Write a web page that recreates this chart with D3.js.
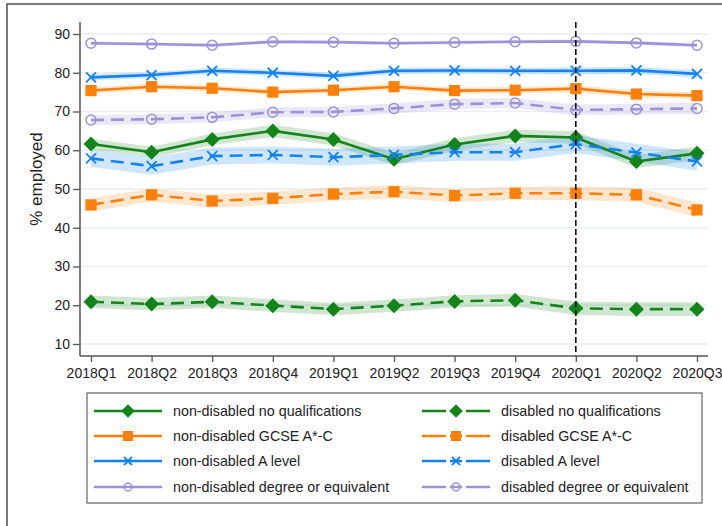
<!DOCTYPE html>
<html>
<head>
<meta charset="utf-8">
<script src="https://cdn.jsdelivr.net/npm/d3@7"></script>
<style>
  html, body { margin: 0; padding: 0; background: #fff; }
  svg { display: block; font-family: "Liberation Sans", Arial, sans-serif; }
</style>
</head>
<body>
<svg id="chart" width="722" height="526"></svg>
<script>
// Quarters on the x axis
const quarters = ["2018Q1","2018Q2","2018Q3","2018Q4","2019Q1","2019Q2","2019Q3","2019Q4","2020Q1","2020Q2","2020Q3"];
const yTicks = [10, 20, 30, 40, 50, 60, 70, 80, 90];
const markerQuarter = "2020Q1";

// Employment rate (%) by group
const nonDisNoQual   = [61.6, 59.5, 62.8, 65.0, 62.8, 57.7, 61.5, 63.7, 63.3, 57.1, 59.2];
const nonDisGCSE     = [75.4, 76.4, 76.0, 75.0, 75.5, 76.4, 75.4, 75.5, 75.9, 74.5, 74.1];
const nonDisALevel   = [78.8, 79.4, 80.5, 80.0, 79.2, 80.5, 80.6, 80.5, 80.5, 80.6, 79.7];
const nonDisDegree   = [87.6, 87.4, 87.1, 88.0, 87.9, 87.6, 87.8, 88.0, 88.1, 87.7, 87.1];
const disNoQual      = [20.9, 20.3, 20.9, 19.9, 19.0, 19.9, 21.0, 21.3, 19.2, 19.0, 19.0];
const disGCSE        = [45.9, 48.5, 46.9, 47.6, 48.7, 49.3, 48.3, 48.9, 48.9, 48.5, 44.6];
const disALevel      = [57.9, 55.9, 58.5, 58.8, 58.2, 58.8, 59.5, 59.5, 61.6, 59.4, 57.1];
const disDegree      = [67.8, 68.0, 68.5, 69.8, 69.9, 70.8, 71.9, 72.2, 70.4, 70.6, 70.8];

// Half-width of the confidence band around each estimate (percentage points)
const nonDisNoQualCI = [1.4, 1.4, 1.5, 1.6, 1.6, 1.6, 1.6, 1.6, 1.6, 1.7, 1.8];
const nonDisGCSECI   = [0.8, 0.8, 0.8, 0.8, 0.8, 0.8, 0.8, 0.8, 0.9, 0.9, 0.9];
const nonDisALevelCI = [0.8, 0.8, 0.8, 0.8, 0.8, 0.8, 0.8, 0.8, 0.9, 0.9, 1.0];
const nonDisDegreeCI = [0.5, 0.5, 0.5, 0.5, 0.5, 0.5, 0.5, 0.5, 0.5, 0.5, 0.6];
const disNoQualCI    = [1.6, 1.6, 1.6, 1.6, 1.6, 1.6, 1.6, 1.6, 1.7, 1.8, 1.8];
const disGCSECI      = [1.7, 1.7, 1.7, 1.7, 1.7, 1.7, 1.7, 1.7, 1.8, 1.8, 1.9];
const disALevelCI    = [2.2, 2.2, 2.2, 2.2, 2.2, 2.2, 2.2, 2.2, 2.3, 2.3, 2.4];
const disDegreeCI    = [1.3, 1.3, 1.3, 1.3, 1.3, 1.3, 1.3, 1.3, 1.4, 1.4, 1.5];

const GREEN = "#12841a", ORANGE = "#ff8008", BLUE = "#1382f7", PURPLE = "#9c92d8";

const series = [
  { name: "non-disabled no qualifications",     values: nonDisNoQual, ci: nonDisNoQualCI, color: GREEN,  dashed: false, marker: "diamond" },
  { name: "non-disabled GCSE A*-C",             values: nonDisGCSE,   ci: nonDisGCSECI,   color: ORANGE, dashed: false, marker: "square" },
  { name: "non-disabled A level",               values: nonDisALevel, ci: nonDisALevelCI, color: BLUE,   dashed: false, marker: "x" },
  { name: "non-disabled degree or equivalent",  values: nonDisDegree, ci: nonDisDegreeCI, color: PURPLE, dashed: false, marker: "circle" },
  { name: "disabled no qualifications",         values: disNoQual,    ci: disNoQualCI,    color: GREEN,  dashed: true,  marker: "diamond" },
  { name: "disabled GCSE A*-C",                 values: disGCSE,      ci: disGCSECI,      color: ORANGE, dashed: true,  marker: "square" },
  { name: "disabled A level",                   values: disALevel,    ci: disALevelCI,    color: BLUE,   dashed: true,  marker: "x" },
  { name: "disabled degree or equivalent",      values: disDegree,    ci: disDegreeCI,    color: PURPLE, dashed: true,  marker: "circle" }
];

const svg = d3.select("#chart");

// Outer frame of the figure
svg.append("rect")
  .attr("x", 7).attr("y", 4).attr("width", 740).attr("height", 560)
  .attr("fill", "none").attr("stroke", "#333").attr("stroke-width", 1.3);

const x = d3.scalePoint().domain(quarters).range([91, 697]).padding(0);
const y = d3.scaleLinear().domain([10, 90]).range([344, 34]);

const plotLeft = 80, plotRight = 708, plotBottom = 356, plotTop = 22;

// Horizontal gridlines
svg.append("g").selectAll("line").data(yTicks).join("line")
  .attr("x1", plotLeft).attr("x2", plotRight)
  .attr("y1", d => y(d)).attr("y2", d => y(d))
  .attr("stroke", "#e6eff2").attr("stroke-width", 1.5);

// Confidence bands
const area = d3.area()
  .x((d, i) => x(quarters[i]))
  .y0(d => y(d.v - d.c))
  .y1(d => y(d.v + d.c));

svg.append("g").selectAll("path").data(series).join("path")
  .attr("d", s => area(s.values.map((v, i) => ({ v, c: s.ci[i] }))))
  .attr("fill", s => s.color)
  .attr("fill-opacity", 0.2)
  .attr("stroke", "none");

// Lines
const line = d3.line().x((d, i) => x(quarters[i])).y(d => y(d));
svg.append("g").selectAll("path").data(series).join("path")
  .attr("d", s => line(s.values))
  .attr("fill", "none")
  .attr("stroke", s => s.color)
  .attr("stroke-width", 2.6)
  .attr("stroke-dasharray", s => s.dashed ? "13,7" : null);

// Marker drawing
function drawMarker(g, type, color, cx, cy, scale) {
  const k = scale || 1;
  if (type === "diamond") {
    const r = 7.5 * k;
    g.append("path")
      .attr("d", `M${cx},${cy - r}L${cx + r},${cy}L${cx},${cy + r}L${cx - r},${cy}Z`)
      .attr("fill", color);
  } else if (type === "square") {
    const h = 5.6 * k;
    g.append("rect")
      .attr("x", cx - h).attr("y", cy - h).attr("width", 2 * h).attr("height", 2 * h)
      .attr("fill", color);
  } else if (type === "x") {
    const h = 5 * k;
    g.append("path")
      .attr("d", `M${cx - h},${cy - h}L${cx + h},${cy + h}M${cx - h},${cy + h}L${cx + h},${cy - h}`)
      .attr("stroke", color).attr("stroke-width", 1.8).attr("fill", "none");
  } else if (type === "circle") {
    g.append("circle")
      .attr("cx", cx).attr("cy", cy).attr("r", 5 * k)
      .attr("fill", "none").attr("stroke", color).attr("stroke-width", 1.5);
  }
}

const markersG = svg.append("g");
series.forEach(s => {
  s.values.forEach((v, i) => drawMarker(markersG, s.marker, s.color, x(quarters[i]), y(v)));
});

// Reference line at 2020Q1
svg.append("line")
  .attr("x1", x(markerQuarter)).attr("x2", x(markerQuarter))
  .attr("y1", plotTop).attr("y2", plotBottom)
  .attr("stroke", "#111").attr("stroke-width", 1.6)
  .attr("stroke-dasharray", "6,3");

// Axes
const yAxis = svg.append("g")
  .attr("transform", `translate(${plotLeft},0)`)
  .call(d3.axisLeft(y).tickValues(yTicks).tickSize(7).tickPadding(3));
yAxis.select(".domain").remove();
yAxis.selectAll(".tick line").attr("stroke", "#555").attr("stroke-width", 1.3);
yAxis.selectAll(".tick text").attr("font-size", 14).attr("fill", "#222")
  .attr("font-family", "Liberation Sans, Arial, sans-serif");

const xAxis = svg.append("g")
  .attr("transform", `translate(0,${plotBottom})`)
  .call(d3.axisBottom(x).tickSize(6).tickPadding(6));
xAxis.select(".domain").remove();
xAxis.selectAll(".tick line").attr("stroke", "#555").attr("stroke-width", 1.3);
xAxis.selectAll(".tick text").attr("font-size", 14).attr("fill", "#222")
  .attr("font-family", "Liberation Sans, Arial, sans-serif");

svg.append("line")
  .attr("x1", plotLeft).attr("x2", plotLeft).attr("y1", plotTop).attr("y2", plotBottom)
  .attr("stroke", "#555").attr("stroke-width", 1.5);
svg.append("line")
  .attr("x1", plotLeft).attr("x2", plotRight).attr("y1", plotBottom).attr("y2", plotBottom)
  .attr("stroke", "#555").attr("stroke-width", 1.5);

// Y axis title
svg.append("text")
  .attr("transform", "translate(42,179) rotate(-90)")
  .attr("text-anchor", "middle")
  .attr("font-size", 17).attr("fill", "#222")
  .text("% employed");

// Legend
const legend = svg.append("g");
legend.append("rect")
  .attr("x", 87).attr("y", 393).attr("width", 615).attr("height", 110)
  .attr("fill", "#fff").attr("stroke", "#444").attr("stroke-width", 1);

const colX = [94, 422];
const rowY = [411, 436, 461, 487];
series.forEach((s, idx) => {
  const col = s.dashed ? 1 : 0;
  const row = idx % 4;
  const x0 = colX[col], yy = rowY[row];
  legend.append("line")
    .attr("x1", x0).attr("x2", x0 + 68).attr("y1", yy).attr("y2", yy)
    .attr("stroke", s.color).attr("stroke-width", 2.6)
    .attr("stroke-dasharray", s.dashed ? "24,4,12,4,24" : null);
  drawMarker(legend, s.marker, s.color, x0 + 34, yy, s.marker === "circle" ? 0.8 : (s.marker === "x" ? 0.8 : 0.9));
  legend.append("text")
    .attr("x", x0 + 79).attr("y", yy + 5)
    .attr("font-size", 14.3).attr("fill", "#222")
    .text(s.name);
});
</script>
</body>
</html>
